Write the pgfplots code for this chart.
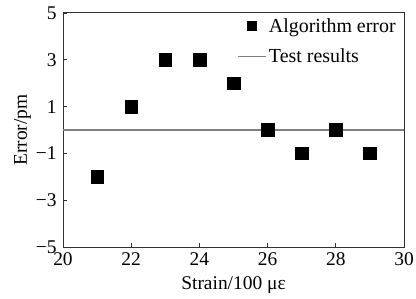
\documentclass[border=0pt]{standalone}
\usepackage{pgfplots}
\pgfplotsset{compat=1.18}
\usepackage{fontspec}
\setmainfont{Liberation Serif}
\begin{document}
\begin{tikzpicture}
\begin{axis}[
  name=ax,
  scale only axis,
  width=341bp, height=234bp,
  xmin=20, xmax=30, ymin=-5, ymax=5,
  xtick={20,22,24,26,28,30},
  ytick={-5,-3,-1,1,3,5},
  xticklabels={20,22,24,26,28,30},
  yticklabels={−5,−3,−1,1,3,5},
  tick pos=left,
  tick align=inside,
  major tick length=4bp,
  axis line style={line width=1pt, black!80},
  tick style={black!80, line width=0.8pt},
  tick label style={font=\fontsize{19.5}{22}\selectfont},
  label style={font=\fontsize{19.5}{22}\selectfont},
  xticklabel style={yshift=-2bp},
  yticklabel style={xshift=-3bp},
  xlabel={Strain/100 με},
  ylabel={Error/pm},
  xlabel style={yshift=-4pt},
  ylabel style={yshift=-2pt},
  legend style={draw=none, fill=none, at={(0.985,0.99)}, anchor=north east,
    font=\fontsize{20}{22}\selectfont, row sep=11pt, inner sep=1pt},
  legend cell align=left,
]
\addlegendimage{legend image code/.code={%
  \path[draw=none, fill=none] (0bp,0bp) rectangle (28bp,0.1bp);
  \fill[black] (9bp,-4.5bp) rectangle (18bp,4.5bp);}}
\addlegendentry{Algorithm error}
\addlegendimage{legend image code/.code={%
  \draw[gray, line width=1.2pt] (0bp,0bp) -- (28bp,0bp);}}
\addlegendentry{Test results}
\addplot[only marks, mark=square*, mark size=6.3bp, black, forget plot] coordinates {
(21,-2)(22,1)(23,3)(24,3)(25,2)(26,0)(27,-1)(28,0)(29,-1)};
\addplot[gray, line width=1.5pt, forget plot] coordinates {(20,0)(30,0)};
\end{axis}
\pgfresetboundingbox
\path ([shift={(-63bp,-52bp)}]ax.south west) rectangle ([shift={(12bp,13bp)}]ax.north east);
\end{tikzpicture}
\end{document}
